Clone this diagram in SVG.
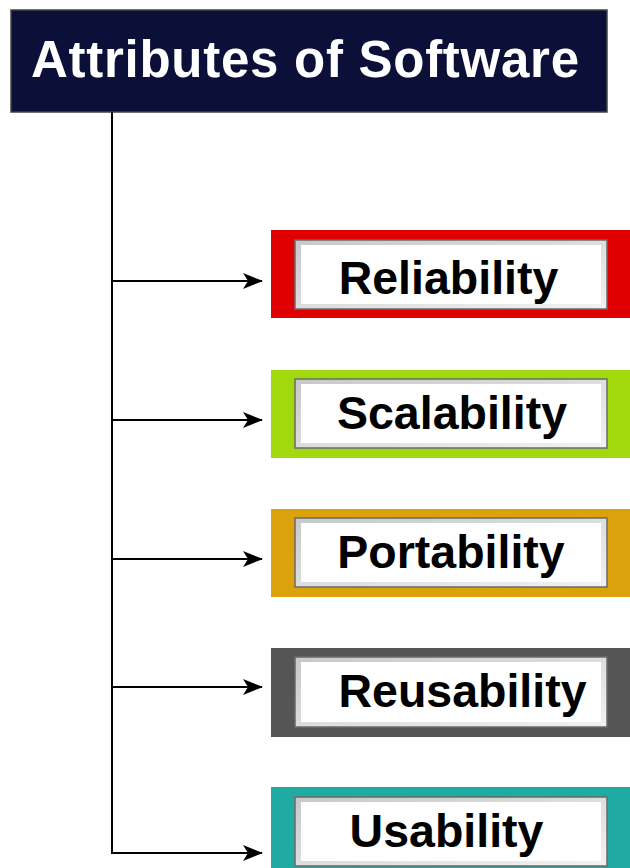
<svg xmlns="http://www.w3.org/2000/svg" width="630" height="868" viewBox="0 0 630 868">
<style>
.lbl{font-family:"Liberation Sans",Arial,sans-serif;font-weight:bold;font-size:46.5px;fill:#000;text-anchor:middle}
.hdr{font-family:"Liberation Sans",Arial,sans-serif;font-weight:bold;font-size:51px;fill:#fff;text-anchor:middle}
.conn{stroke:#000;stroke-width:2;fill:none}
.bev{fill:url(#bevel);stroke:#6a6a6a;stroke-width:1.5}
.face{fill:#fff}
</style>
<defs>
<linearGradient id="bevel" x1="0" y1="0" x2="1" y2="1">
<stop offset="0" stop-color="#c8c8c8"/>
<stop offset="1" stop-color="#f2f2f2"/>
</linearGradient>
<marker id="arr" viewBox="0 0 20 16" refX="19" refY="8" markerWidth="20" markerHeight="16" markerUnits="userSpaceOnUse" orient="auto">
<path d="M0,0 L20,8 L0,16 L5,8 Z" fill="#000"/>
</marker>
</defs>
<g id="header">
<rect x="11" y="10" width="596" height="102" fill="#0c0f38" stroke="#444" stroke-width="1.5"/>
<text class="hdr" x="305" y="77" textLength="548" lengthAdjust="spacing">Attributes of Software</text>
</g>
<g id="connectors">
<path class="conn" d="M112,112 V853 H262" marker-end="url(#arr)"/>
<path class="conn" d="M112,281 H262" marker-end="url(#arr)"/>
<path class="conn" d="M112,420 H262" marker-end="url(#arr)"/>
<path class="conn" d="M112,559 H262" marker-end="url(#arr)"/>
<path class="conn" d="M112,687 H262" marker-end="url(#arr)"/>
</g>
<g id="reliability">
<rect x="271" y="230" width="362" height="88" fill="#e00000"/>
<rect class="bev" x="295" y="240" width="312" height="69"/>
<rect class="face" x="301" y="245" width="300" height="59"/>
<text class="lbl" x="448.5" y="294">Reliability</text>
</g>
<g id="scalability">
<rect x="271" y="370" width="362" height="88" fill="#a2d90e"/>
<rect class="bev" x="295" y="379" width="312" height="69"/>
<rect class="face" x="301" y="384" width="300" height="59"/>
<text class="lbl" x="452" y="429">Scalability</text>
</g>
<g id="portability">
<rect x="271" y="509" width="362" height="88" fill="#dca20c"/>
<rect class="bev" x="295" y="518" width="312" height="69"/>
<rect class="face" x="301" y="523" width="300" height="59"/>
<text class="lbl" x="451" y="568">Portability</text>
</g>
<g id="reusability">
<rect x="271" y="648" width="362" height="89" fill="#555555"/>
<rect class="bev" x="295" y="657" width="312" height="70"/>
<rect class="face" x="301" y="662" width="300" height="60"/>
<text class="lbl" x="462.5" y="707">Reusability</text>
</g>
<g id="usability">
<rect x="271" y="787" width="362" height="88" fill="#20aba2"/>
<rect class="bev" x="295" y="797" width="312" height="69"/>
<rect class="face" x="301" y="802" width="300" height="59"/>
<text class="lbl" x="446.5" y="847">Usability</text>
</g>
</svg>
